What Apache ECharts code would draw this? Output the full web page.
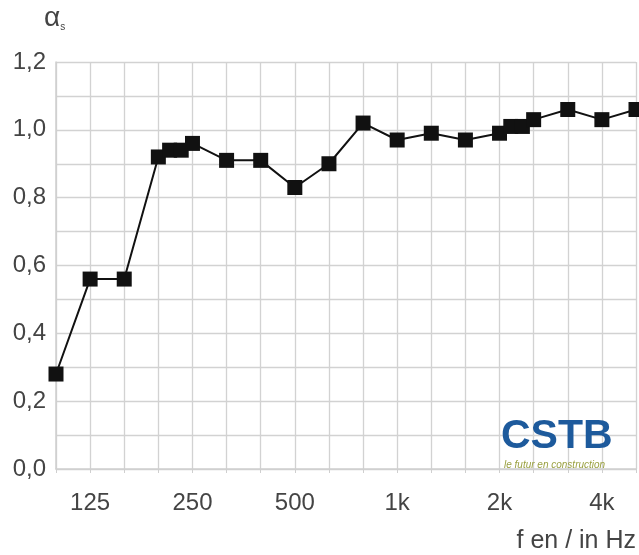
<!DOCTYPE html>
<html>
<head>
<meta charset="utf-8">
<script src="https://cdn.jsdelivr.net/npm/echarts@6/dist/echarts.min.js"></script>
<style>html,body{margin:0;padding:0;background:#fff}#c{width:639px;height:555px}</style>
</head>
<body>
<div id="c"></div>
<script>
// Third-octave band labels (index = band position on the x axis)
var bandLabels = ['100','125','160','200','250','315','400','500','630','800','1k','1.25k','1.6k','2k','2.5k','3.15k','4k','5k'];
var shownTicks = ['125','250','500','1k','2k','4k'];
// Measured points: band position and absorption coefficient
var bandPos = [0, 1, 2, 3, 3.33, 3.67, 4, 5, 6, 7, 8, 9, 10, 11, 12, 13, 13.33, 13.67, 14, 15, 16, 17];
var alphaS  = [0.28, 0.56, 0.56, 0.92, 0.94, 0.94, 0.96, 0.91, 0.91, 0.83, 0.90, 1.02, 0.97, 0.99, 0.97, 0.99, 1.01, 1.01, 1.03, 1.06, 1.03, 1.06];
var yTicks = [0, 0.2, 0.4, 0.6, 0.8, 1.0, 1.2];

var chart = echarts.init(document.getElementById('c'), null, {renderer: 'canvas'});
var pts = bandPos.map(function (x, i) { return [x, alphaS[i]]; });
var font = 'Liberation Sans, Arial, sans-serif';
chart.setOption({
  animation: false,
  backgroundColor: '#fff',
  grid: {left: 56, right: 3, top: 62, bottom: 86, containLabel: false},
  xAxis: {
    type: 'value', min: 0, max: bandLabels.length - 1, interval: 1,
    axisLine: {show: true, lineStyle: {color: '#cfcfcf', width: 1.5}},
    axisTick: {show: true, length: 4, lineStyle: {color: '#cfcfcf'}},
    splitLine: {show: true, lineStyle: {color: '#d2d2d2', width: 1.3}},
    axisLabel: {
      margin: 22, fontSize: 24, color: '#444', fontFamily: font,
      showMinLabel: true, showMaxLabel: true,
      formatter: function (v) {
        var l = bandLabels[Math.round(v)];
        return shownTicks.indexOf(l) >= 0 ? l : '';
      }
    },
    name: 'f en / in Hz', nameLocation: 'end', nameGap: 0,
    nameTextStyle: {fontSize: 25, color: '#444', fontFamily: font, align: 'right', verticalAlign: 'top', padding: [60, 0, 0, 0]}
  },
  yAxis: {
    type: 'value', min: 0, max: 1.2, interval: 0.1,
    axisLine: {show: true, lineStyle: {color: '#cfcfcf', width: 1.5}},
    axisTick: {show: false},
    splitLine: {show: true, lineStyle: {color: '#d2d2d2', width: 1.3}},
    axisLabel: {
      margin: 10, fontSize: 24, color: '#444', fontFamily: font,
      formatter: function (v) {
        for (var i = 0; i < yTicks.length; i++) {
          if (Math.abs(v - yTicks[i]) < 1e-6) return yTicks[i].toFixed(1).replace('.', ',');
        }
        return '';
      }
    }
  },
  graphic: [
    {type: 'text', left: 44, top: 4, style: {
      text: '{a|α}{s|s}', rich: {
        a: {fontSize: 28, fill: '#444', fontFamily: font},
        s: {fontSize: 10, fill: '#444', fontFamily: font, verticalAlign: 'bottom', padding: [14, 0, 0, 0]}
      }}},
    {type: 'text', left: 501, top: 416, z: 10, style: {text: 'CSTB', font: 'bold 41px Liberation Sans, Arial, sans-serif', fill: '#1d5a9c'}},
    {type: 'text', left: 504, top: 460, z: 10, style: {text: 'le futur en construction', font: 'italic 10px Liberation Sans, Arial, sans-serif', fill: '#9aa040'}}
  ],
  series: [{
    type: 'line', data: pts, clip: true,
    symbol: 'rect', symbolSize: 15,
    lineStyle: {color: '#111', width: 2},
    itemStyle: {color: '#111'}
  }]
});
</script>
</body>
</html>
